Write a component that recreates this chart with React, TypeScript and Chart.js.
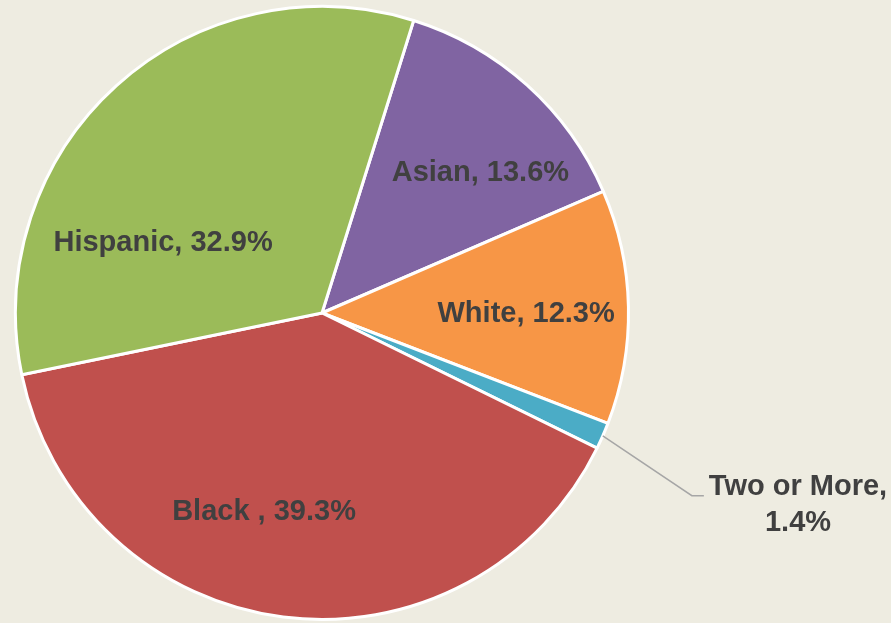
import React, { useEffect, useRef } from "react";
import { Chart, registerables } from "chart.js";

Chart.register(...registerables);

const categories = ["Asian", "White", "Two or More", "Black ", "Hispanic"];
const shares = [13.6, 12.3, 1.4, 39.3, 32.9];
const colors = ["#8064A2", "#F79646", "#4BACC6", "#C0504D", "#9BBB59"];
// label placement: fraction of radius and angular shift (deg) from slice middle
const labelRadius = [0.69, 0.666, 0, 0.675, 0.567];
const labelShift = [6.5, 1.5, 0, 9, -24];
const outsideLabel = [false, false, true, false, false];

const BG = "#EEECE1";
const FONT = "bold 29px 'Liberation Sans', Arial, sans-serif";

const labelPlugin = {
  id: "sliceLabels",
  afterDraw(chart: any) {
    const ctx = chart.ctx;
    const meta = chart.getDatasetMeta(0);
    ctx.save();
    ctx.font = FONT;
    ctx.fillStyle = "#404040";
    ctx.textBaseline = "middle";
    meta.data.forEach((arc: any, i: number) => {
      const p = arc.getProps(["x", "y", "startAngle", "endAngle", "outerRadius"], true);
      const mid = (p.startAngle + p.endAngle) / 2;
      const text = `${categories[i]}, ${shares[i].toFixed(1)}%`;
      if (!outsideLabel[i]) {
        const a = mid + (labelShift[i] * Math.PI) / 180;
        const r = p.outerRadius * labelRadius[i];
        ctx.textAlign = "center";
        ctx.fillText(text, p.x + Math.cos(a) * r, p.y + Math.sin(a) * r);
      } else {
        const sx = p.x + Math.cos(mid) * p.outerRadius;
        const sy = p.y + Math.sin(mid) * p.outerRadius;
        const ea = mid + (2.65 * Math.PI) / 180;
        const er = p.outerRadius * 1.346;
        const ex = p.x + Math.cos(ea) * er;
        const ey = p.y + Math.sin(ea) * er;
        ctx.strokeStyle = "#A6A6A6";
        ctx.lineWidth = 1.5;
        ctx.beginPath();
        ctx.moveTo(sx, sy);
        ctx.lineTo(ex, ey);
        ctx.lineTo(ex + 12, ey);
        ctx.stroke();
        const line1 = `${categories[i]},`;
        const line2 = `${shares[i].toFixed(1)}%`;
        const w = ctx.measureText(line1).width;
        const cx = ex + 17 + w / 2;
        ctx.textAlign = "center";
        ctx.fillText(line1, cx, ey - 9);
        ctx.fillText(line2, cx, ey + 27);
      }
    });
    ctx.restore();
  },
};

export default function App() {
  const ref = useRef<HTMLCanvasElement>(null);
  useEffect(() => {
    document.body.style.margin = "0";
    document.body.style.background = BG;
    const chart = new Chart(ref.current as HTMLCanvasElement, {
      type: "pie",
      data: {
        labels: categories,
        datasets: [
          {
            data: shares,
            backgroundColor: colors,
            borderColor: "#FFFFFF",
            borderWidth: 3,
          },
        ],
      },
      options: {
        animation: false,
        responsive: false,
        rotation: 17.4,
        layout: { padding: { top: 5, bottom: 2, left: 14, right: 261 } },
        plugins: {
          legend: { display: false },
          tooltip: { enabled: false },
        },
      },
      plugins: [labelPlugin],
    });
    return () => chart.destroy();
  }, []);
  return (
    <div style={{ width: 891, height: 623, background: BG }}>
      <canvas ref={ref} width={891} height={623} style={{ display: "block" }} />
    </div>
  );
}
